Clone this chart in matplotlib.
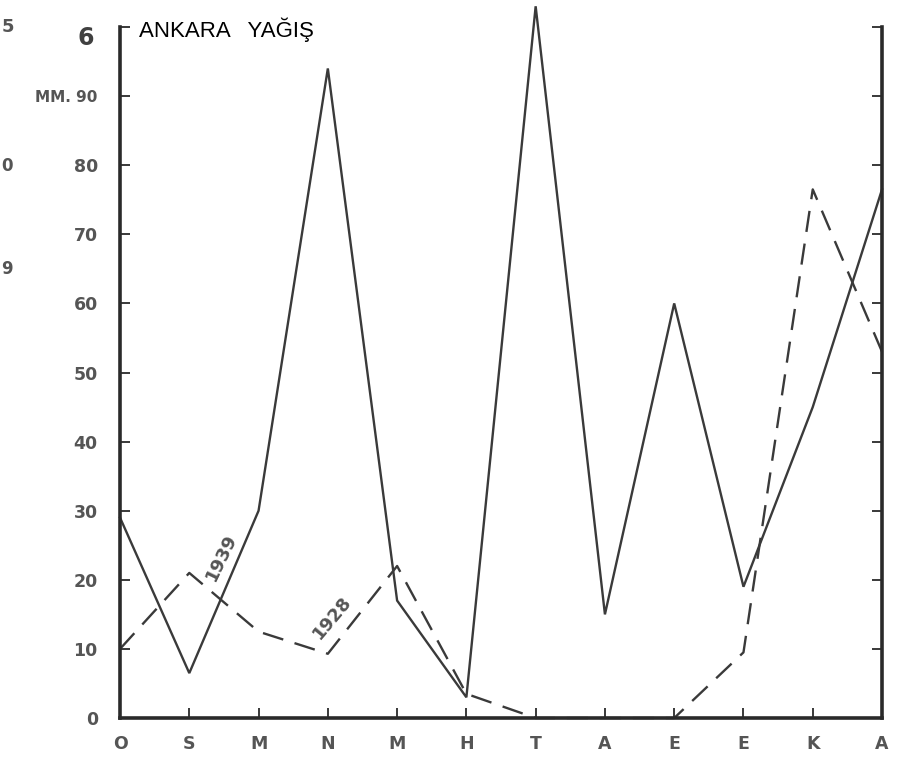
import matplotlib.pyplot as plt

# months (Ekim .. Ağustos), precipitation in mm
months = ['O', 'S', 'M', 'N', 'M', 'H', 'T', 'A', 'E', 'E', 'K', 'A']
rain_1939 = [29, 6.5, 30, 94, 17, 3, 103, 15, 60, 19, 45, 76.5]
rain_1928 = [10, 21, 12.5, 9.3, 22, 3.5, 0, 0, 0, 9.5, 76.5, 53]

y_ticks = [0, 10, 20, 30, 40, 50, 60, 70, 80, 90, 100]
y_labels = ['0', '10', '20', '30', '40', '50', '60', '70', '80', 'MM. 90', '']

ink = '#3a3a3a'
label_gray = '#555555'


def main():
    fig = plt.figure(figsize=(8.97, 7.65), dpi=100)
    ax = fig.add_axes([0.1338, 0.0614, 0.8495, 0.9033])

    x = list(range(len(months)))
    ax.plot(x, rain_1939, color=ink, lw=1.7, clip_on=False, solid_joinstyle='miter')
    ax.plot(x, rain_1928, color=ink, lw=1.7, dashes=(9, 5), clip_on=False)

    ax.set_xlim(0, 11)
    ax.set_ylim(0, 100)

    ax.set_xticks(x)
    ax.set_xticklabels(months)
    ax.set_yticks(y_ticks)
    ax.set_yticklabels(y_labels)

    for side in ['left', 'bottom', 'right']:
        ax.spines[side].set_linewidth(2.6)
        ax.spines[side].set_color('#2a2a2a')
    ax.spines['top'].set_visible(False)

    ax.tick_params(axis='both', direction='in', length=7, width=1.3, color='#2a2a2a')
    ax.tick_params(axis='y', right=True, labelright=False, labelsize=12.5,
                   labelcolor=label_gray, pad=16)
    ax.tick_params(axis='x', labelsize=12.5, labelcolor=label_gray, pad=12)
    for lbl in ax.get_yticklabels() + ax.get_xticklabels():
        lbl.set_fontweight('bold')
    ax.get_yticklabels()[-2].set_fontsize(11)

    # odd top label, printed a bit below the top tick
    ax.text(-0.38, 98.4, '6', fontsize=17, fontweight='bold', color='#404040',
            ha='right', va='center')

    ax.text(0.27, 99.6, 'ANKARA   YAĞIŞ', family='Liberation Sans', fontsize=16,
            color='black', va='center', ha='left')

    ax.text(1.47, 23.2, '1939', rotation=64, fontsize=13, fontweight='bold',
            color=label_gray, ha='center', va='center')
    ax.text(3.07, 14.5, '1928', rotation=50, fontsize=13, fontweight='bold',
            color=label_gray, ha='center', va='center')

    # marks from the neighbouring figure at the left edge
    fig.text(0.009, 0.965, '5', fontsize=13, fontweight='bold', color=label_gray,
             ha='center', va='center')
    fig.text(0.008, 0.783, '0', fontsize=12, fontweight='bold', color=label_gray,
             ha='center', va='center')
    fig.text(0.008, 0.648, '9', fontsize=12, fontweight='bold', color=label_gray,
             ha='center', va='center')

    fig.savefig('out.png', dpi=100)


if __name__ == "__main__":
    main()
